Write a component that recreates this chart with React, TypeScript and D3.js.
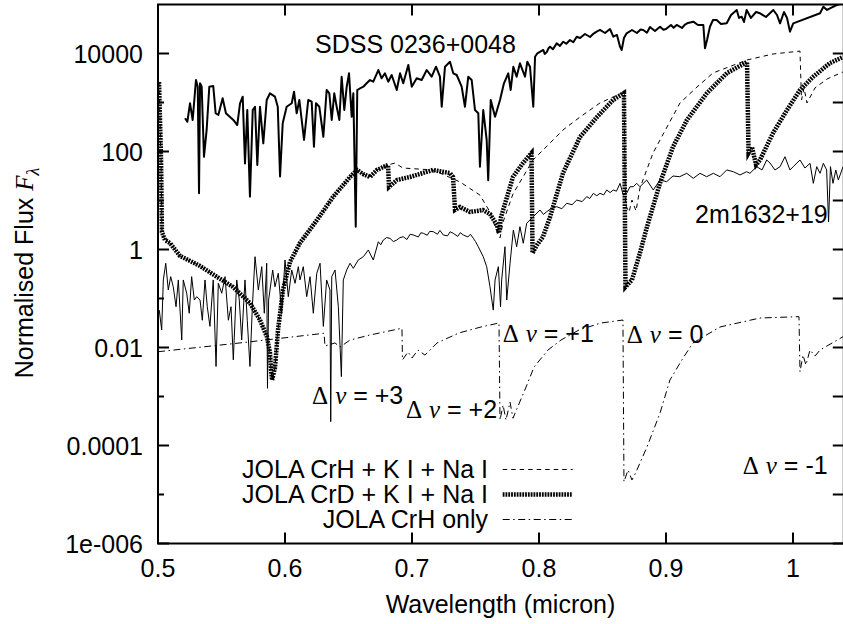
import React from 'react';
import * as d3 from 'd3';

const SANS = "'Liberation Sans', Arial, Helvetica, sans-serif";
const SERIF = "'Liberation Serif', 'Times New Roman', serif";

// Tick values and labels
const xTicks = [0.5, 0.6, 0.7, 0.8, 0.9, 1.0];
const xTickLabels = ['0.5', '0.6', '0.7', '0.8', '0.9', '1'];
const yMajor = [1e-6, 1e-4, 1e-2, 1, 100, 1e4];
const yMajorLabels = ['1e-006', '0.0001', '0.01', '1', '100', '10000'];
const yMinor = [1e-5, 1e-3, 0.1, 10, 1000];

// SDSS 0236+0048 observed spectrum [wavelength micron, flux]
const sdss: [number, number][] = [
  [0.5213,476],[0.5231,405],[0.5252,964],[0.5273,440],[0.5299,2875],[0.5313,2100],[0.5323,14],[0.5331,2466],[0.5344,2100],[0.5362,78],[0.5383,275],[0.5404,2100],[0.5435,2170],[0.5454,603],[0.5475,556],[0.5509,1220],[0.5535,603],[0.5593,440],[0.5624,347],[0.5646,964],[0.5667,1315],[0.5685,57],[0.5703,703],[0.5724,12],[0.5746,703],[0.5764,820],[0.5782,53],[0.5803,820],[0.5829,147],[0.5856,1125],[0.5882,1540],[0.5921,1315],[0.5943,820],[0.5961,31],[0.5982,377],[0.6013,820],[0.6053,964],[0.6071,1660],[0.6092,603],[0.6113,1125],[0.6150,172],[0.6183,1125],[0.6210,1038],[0.6228,125],[0.6244,964],[0.6270,820],[0.6302,200],[0.6328,1800],[0.6349,1540],[0.6368,440],[0.6388,1540],[0.6407,820],[0.6428,440],[0.6446,3365],[0.6467,703],[0.6486,2100],[0.6504,3945],[0.6525,513],[0.6538,1540],[0.6557,2.9],[0.6569,1800],[0.6591,1950],[0.6617,2100],[0.6643,2466],[0.6669,2875],[0.6695,2660],[0.6735,4600],[0.6761,3120],[0.6787,3945],[0.6813,2660],[0.6840,3640],[0.6880,1800],[0.6906,3945],[0.6931,2466],[0.6971,5820],[0.6998,2100],[0.7037,3120],[0.7076,2875],[0.7116,4600],[0.7155,3365],[0.7189,5380],[0.7220,3365],[0.7234,820],[0.7260,5380],[0.7299,6800],[0.7325,3945],[0.7352,3640],[0.7391,2100],[0.7417,820],[0.7443,3365],[0.7470,2875],[0.7496,703],[0.7522,603],[0.7535,49],[0.7561,703],[0.7588,172],[0.7600,26],[0.7620,1125],[0.7654,513],[0.7693,1125],[0.7724,2466],[0.7758,3945],[0.7777,1800],[0.7798,5380],[0.7824,3365],[0.7850,6300],[0.7890,3365],[0.7908,6800],[0.7929,5380],[0.7955,820],[0.7969,8600],[0.7987,10100],[0.8034,11800],[0.8045,9800],[0.8061,10700],[0.8075,12800],[0.8087,13800],[0.8110,12200],[0.8139,16100],[0.8165,14300],[0.8191,17400],[0.8215,15800],[0.8244,18900],[0.8270,17000],[0.8297,22000],[0.8323,20700],[0.8362,25000],[0.8402,21700],[0.8430,25500],[0.8454,27900],[0.8480,30200],[0.8520,26200],[0.8559,31600],[0.8585,22000],[0.8614,23900],[0.8638,13800],[0.8651,11800],[0.8669,20700],[0.8690,25800],[0.8732,30200],[0.8771,26200],[0.8800,31000],[0.8821,30200],[0.8850,26500],[0.8874,34800],[0.8913,28800],[0.8953,35200],[0.8980,30500],[0.9000,31600],[0.9039,38200],[0.9060,33500],[0.9084,38200],[0.9126,33200],[0.9150,39000],[0.9173,42000],[0.9215,44600],[0.9252,38200],[0.9294,38200],[0.9307,12800],[0.9323,18900],[0.9346,35200],[0.9370,48300],[0.9399,48300],[0.9433,40000],[0.9478,41300],[0.9512,61100],[0.9557,77300],[0.9575,53100],[0.9596,56400],[0.9614,44000],[0.9635,77300],[0.9669,53100],[0.9709,70300],[0.9740,66200],[0.9787,55600],[0.9845,77300],[0.9874,61100],[0.9898,41300],[0.9929,70300],[0.9953,53100],[0.9976,27900],[1.0002,41300],[1.0213,66200],[1.0239,90200],[1.0268,77300],[1.0291,83700],[1.0344,97700],[1.0394,106000],
];

// 2m1632+19 observed spectrum
const tm1632: [number, number][] = [
  [0.5010,0.058],[0.5029,0.0228],[0.5042,0.239],[0.5061,0.524],[0.5081,0.149],[0.5100,0.279],[0.5120,0.174],[0.5142,0.068],[0.5160,0.239],[0.5187,0.0142],[0.5199,0.239],[0.5226,0.128],[0.5246,0.050],[0.5265,0.279],[0.5286,0.093],[0.5305,0.109],[0.5331,0.093],[0.5349,0.036],[0.5370,0.239],[0.5388,0.068],[0.5409,0.027],[0.5435,0.239],[0.5457,0.0041],[0.5475,0.204],[0.5502,0.128],[0.5528,0.279],[0.5554,0.036],[0.5575,0.068],[0.5593,0.0056],[0.5620,0.239],[0.5640,0.093],[0.5659,0.0142],[0.5685,0.239],[0.5703,0.036],[0.5724,0.0041],[0.5743,0.068],[0.5764,0.713],[0.5790,0.149],[0.5817,0.446],[0.5837,0.050],[0.5856,0.524],[0.5862,0.00147],[0.5871,0.093],[0.5882,0.149],[0.5903,0.382],[0.5921,0.174],[0.5947,0.327],[0.5974,0.050],[0.6000,0.611],[0.6026,0.109],[0.6053,0.382],[0.6079,0.204],[0.6105,0.446],[0.6118,0.239],[0.6144,0.446],[0.6171,0.109],[0.6197,0.279],[0.6223,0.050],[0.6250,0.327],[0.6276,0.524],[0.6302,0.027],[0.6328,0.239],[0.6354,0.149],[0.6360,0.000306],[0.6368,0.279],[0.6394,0.382],[0.6420,0.068],[0.6444,0.00254],[0.6459,0.239],[0.6486,0.382],[0.6512,0.524],[0.6538,0.413],[0.6577,0.611],[0.6617,0.713],[0.6656,0.977],[0.6695,0.611],[0.6735,1.44],[0.6754,1.25],[0.6774,1.56],[0.6800,1.75],[0.6827,1.69],[0.6853,1.45],[0.6880,1.56],[0.6905,1.75],[0.6931,1.82],[0.6960,1.60],[0.6985,2.05],[0.7010,1.98],[0.7050,1.80],[0.7070,2.20],[0.7089,2.14],[0.7120,1.95],[0.7140,2.35],[0.7168,2.31],[0.7200,2.05],[0.7220,2.45],[0.7246,1.98],[0.7280,1.90],[0.7300,2.30],[0.7325,2.14],[0.7360,1.85],[0.7380,2.20],[0.7404,1.98],[0.7440,1.80],[0.7460,2.05],[0.7483,1.69],[0.7500,1.45],[0.7522,1.14],[0.7561,0.713],[0.7588,0.446],[0.7614,0.174],[0.7640,0.058],[0.7654,0.239],[0.7680,0.446],[0.7697,0.068],[0.7706,0.239],[0.7732,1.14],[0.7746,0.093],[0.7772,0.524],[0.7798,2.50],[0.7824,1.14],[0.7850,2.92],[0.7876,1.34],[0.7903,3.43],[0.7955,4.68],[0.8008,6.40],[0.8035,5.2],[0.8061,5.91],[0.8100,7.0],[0.8139,7.48],[0.8180,6.8],[0.8218,8.77],[0.8260,8.2],[0.8297,10.2],[0.8340,9.5],[0.8376,12.0],[0.8400,11.0],[0.8428,14.0],[0.8455,12.5],[0.8480,14.0],[0.8510,13.0],[0.8533,16.4],[0.8560,14.5],[0.8585,16.4],[0.8610,15.5],[0.8638,22.4],[0.8664,12.9],[0.8690,14.0],[0.8717,19.1],[0.8743,19.1],[0.8769,22.4],[0.8795,19.1],[0.8848,26.2],[0.8900,16.4],[0.8953,26.2],[0.9005,24.2],[0.9055,31.6],[0.9108,30.6],[0.9163,35.9],[0.9215,28.4],[0.9268,35.9],[0.9320,30.6],[0.9373,35.9],[0.9425,30.6],[0.9478,42.0],[0.9530,38.7],[0.9583,33.2],[0.9635,38.7],[0.9661,35.9],[0.9714,49.0],[0.9756,42.0],[0.9793,67.1],[0.9819,58.2],[0.9858,42.0],[0.9898,49.0],[0.9937,78.3],[0.9976,42.0],[1.0002,49.0],[1.0055,67.1],[1.0094,46.0],[1.0134,57.4],[1.0160,22.4],[1.0187,49.0],[1.0213,35.9],[1.0239,57.4],[1.0265,42.0],[1.0280,3.64],[1.0295,49.0],[1.0315,22.4],[1.0337,42.0],[1.0357,26.2],[1.0394,49.0],
];

// JOLA CrH + K I + Na I model
const crhKNa: [number, number][] = [
  [0.5008,2620],[0.5024,67.1],[0.5031,2.28],[0.5055,1.56],[0.5094,1.36],[0.5173,0.738],[0.5331,0.460],[0.5465,0.275],[0.5591,0.172],[0.5724,0.0809],[0.5803,0.0364],[0.5858,0.0164],[0.5882,0.00773],[0.5890,0.00348],[0.5898,0.00217],[0.5921,0.00382],[0.5945,0.0228],[0.5984,0.149],[0.6039,0.556],[0.6118,1.36],[0.6252,4.00],[0.6378,11.8],[0.6512,30.2],[0.6567,42.0],[0.6614,34.8],[0.6669,30.2],[0.6724,42.0],[0.6811,53.1],[0.6866,58.2],[0.6929,46.0],[0.7165,42.0],[0.7378,23.9],[0.7535,12.9],[0.7614,5.82],[0.7669,2.28],[0.7693,1.72],[0.7717,3.64],[0.7795,13.6],[0.7953,67.1],[0.8189,275],[0.8323,506],[0.8480,977],[0.8583,1294],[0.8669,1637],[0.8681,8.09],[0.8709,5.82],[0.8732,10.2],[0.8764,6.11],[0.8795,18.0],[0.8898,93.3],[0.9008,316],[0.9110,977],[0.9244,2070],[0.9370,4000],[0.9638,7380],[0.9843,9770],[1.0055,11200],[1.0067,1125],[1.0087,1980],[1.0110,977],[1.0173,1980],[1.0268,3020],[1.0394,4200],
];

// JOLA CrD + K I + Na I model
const crdKNa: [number, number][] = [
  [0.5008,2620],[0.5024,67.1],[0.5031,2.28],[0.5055,1.56],[0.5094,1.36],[0.5173,0.738],[0.5331,0.460],[0.5465,0.275],[0.5591,0.172],[0.5724,0.0809],[0.5803,0.0364],[0.5858,0.0164],[0.5882,0.00773],[0.5890,0.00348],[0.5898,0.00217],[0.5921,0.00382],[0.5945,0.0228],[0.5984,0.149],[0.6039,0.556],[0.6118,1.36],[0.6252,4.00],[0.6378,11.8],[0.6512,30.2],[0.6567,42.0],[0.6614,34.8],[0.6669,30.2],[0.6724,42.0],[0.6811,53.1],[0.6819,18.9],[0.6882,26.2],[0.6984,30.2],[0.7165,42.0],[0.7299,36.4],[0.7323,30.2],[0.7339,6.40],[0.7378,7.38],[0.7457,5.82],[0.7559,6.40],[0.7614,5.31],[0.7669,3.16],[0.7685,2.17],[0.7701,4.60],[0.7795,30.2],[0.7874,58.2],[0.7941,93.3],[0.7949,0.849],[0.7984,1.24],[0.8031,1.80],[0.8087,4.60],[0.8189,36.4],[0.8323,198],[0.8457,506],[0.8583,1125],[0.8669,1563],[0.8681,0.172],[0.8732,0.239],[0.8795,0.849],[0.8850,2.88],[0.8953,22.7],[0.9055,124],[0.9165,440],[0.9323,1563],[0.9480,4000],[0.9638,6710],[0.9650,93.3],[0.9677,124],[0.9709,53.1],[0.9740,67.1],[0.9843,239],[0.9953,703],[1.0055,1800],[1.0157,3320],[1.0291,6400],[1.0394,8490],
];

// JOLA CrH only model
const crhOnly: [number, number][] = [
  [0.5000,8.2e-3],[0.5646,1.24e-2],[0.6307,1.95e-2],[0.6315,1.07e-2],[0.6394,1.24e-2],[0.6433,1.02e-2],[0.6512,1.42e-2],[0.6669,1.8e-2],[0.6921,2.47e-2],[0.6925,5.6e-3],[0.6969,8.1e-3],[0.7000,6.1e-3],[0.7047,8.9e-3],[0.7102,7.0e-3],[0.7197,1.24e-2],[0.7370,1.98e-2],[0.7543,2.62e-2],[0.7685,3.16e-2],[0.7693,3.3e-4],[0.7717,6.7e-4],[0.7740,3.3e-4],[0.7772,7.7e-4],[0.7795,3.6e-4],[0.7898,1.56e-3],[0.7961,4.0e-3],[0.8071,8.9e-3],[0.8173,1.42e-2],[0.8315,2.28e-2],[0.8488,3.16e-2],[0.8661,3.64e-2],[0.8669,1.82e-5],[0.8701,3.16e-5],[0.8732,1.98e-5],[0.8764,2.88e-5],[0.8850,9.3e-5],[0.8953,4.6e-4],[0.9031,2.17e-3],[0.9134,6.1e-3],[0.9213,1.24e-2],[0.9425,2.62e-2],[0.9740,4.0e-2],[1.0047,4.26e-2],[1.0055,3.2e-3],[1.0079,7.0e-3],[1.0102,4.4e-3],[1.0134,8.9e-3],[1.0173,6.7e-3],[1.0213,8.9e-3],[1.0394,1.66e-2],
];

const legendLabels = ['JOLA CrH + K I + Na I', 'JOLA CrD + K I + Na I', 'JOLA CrH only'];

const deltaLabels: { w: number; f: number; tail: string }[] = [
  { w: 0.6213, f: 7.0e-4, tail: '+3' },
  { w: 0.6952, f: 3.6e-4, tail: '+2' },
  { w: 0.7714, f: 0.0132, tail: '+1' },
  { w: 0.8691, f: 0.0122, tail: '0' },
  { w: 0.9604, f: 2.6e-5, tail: '-1' },
];

export default function App() {
  const x = d3.scaleLinear().domain([0.5, 1.04]).range([158, 843.8]);
  const y = d3.scaleLog().domain([1e-6, 1e5]).range([543.5, 4.5]);
  const line = d3
    .line<[number, number]>()
    .x((d) => x(d[0]))
    .y((d) => y(d[1]));

  const x0 = x(0.5), x1 = x(1.04);
  const yTop = y(1e5), yBot = y(1e-6);

  const styles = [
    { strokeWidth: 1, dash: '4.5,4' },
    { strokeWidth: 4.5, dash: '1.8,1' },
    { strokeWidth: 1, dash: '7,3.5,1.5,3.5' },
  ];

  return (
    <svg
      width={843}
      height={624}
      style={{ position: 'absolute', left: 0, top: 0, background: '#fff' }}
      fontFamily={SANS}
    >
      <defs>
        <clipPath id="plotclip">
          <rect x={x0} y={yTop} width={x1 - x0} height={yBot - yTop} />
        </clipPath>
      </defs>
      <rect x={0} y={0} width={843} height={624} fill="#fff" />

      <g clipPath="url(#plotclip)" fill="none">
        <path d={line(crhOnly) || ''} stroke="#000" strokeWidth={styles[2].strokeWidth} strokeDasharray={styles[2].dash} />
        <path d={line(tm1632) || ''} stroke="#000" strokeWidth={1} />
        <path d={line(crhKNa) || ''} stroke="#000" strokeWidth={styles[0].strokeWidth} strokeDasharray={styles[0].dash} />
        <path d={line(crdKNa) || ''} stroke="#000" strokeWidth={styles[1].strokeWidth} strokeDasharray={styles[1].dash} />
        <path d={line(sdss) || ''} stroke="#000" strokeWidth={2} strokeLinejoin="round" />
      </g>

      {/* frame */}
      <path
        d={`M${x1},${yTop}H${x0}V${yBot}H${x1}V${yTop}`}
        fill="none"
        stroke="#000"
        strokeWidth={2}
      />

      {/* x ticks */}
      {xTicks.map((t, i) => (
        <g key={'xt' + i}>
          <line x1={x(t)} x2={x(t)} y1={yBot} y2={yBot - 11} stroke="#000" strokeWidth={2} />
          <line x1={x(t)} x2={x(t)} y1={yTop} y2={yTop + 11} stroke="#000" strokeWidth={2} />
          <text x={x(t)} y={577} textAnchor="middle" fontSize={25}>
            {xTickLabels[i]}
          </text>
        </g>
      ))}

      {/* y ticks */}
      {yMajor.map((t, i) => (
        <g key={'ym' + i}>
          <line x1={x0} x2={x0 + 11} y1={y(t)} y2={y(t)} stroke="#000" strokeWidth={2} />
          <line x1={x1} x2={x1 - 11} y1={y(t)} y2={y(t)} stroke="#000" strokeWidth={2} />
          <text x={143} y={y(t) + 9} textAnchor="end" fontSize={25}>
            {yMajorLabels[i]}
          </text>
        </g>
      ))}
      {yMinor.map((t, i) => (
        <g key={'yn' + i}>
          <line x1={x0} x2={x0 + 6} y1={y(t)} y2={y(t)} stroke="#000" strokeWidth={2} />
          <line x1={x1} x2={x1 - 11} y1={y(t)} y2={y(t)} stroke="#000" strokeWidth={2} />
        </g>
      ))}

      {/* axis titles */}
      <text x={500.5} y={613} textAnchor="middle" fontSize={25}>
        Wavelength (micron)
      </text>
      <text transform="translate(33,273) rotate(-90)" textAnchor="middle" fontSize={25}>
        Normalised Flux{' '}
        <tspan fontFamily={SERIF} fontStyle="italic">F</tspan>
        <tspan fontFamily={SERIF} fontStyle="italic" fontSize={18} dy={6}>λ</tspan>
      </text>

      {/* object labels */}
      <text x={315} y={53} fontSize={25}>SDSS 0236+0048</text>
      <text x={695} y={223} fontSize={25}>2m1632+19</text>

      {deltaLabels.map((d, i) => (
        <text key={'dl' + i} x={x(d.w)} y={y(d.f)} fontSize={25}>
          <tspan fontFamily={SERIF}>Δ</tspan>
          <tspan fontFamily={SERIF} fontStyle="italic" dx={7}>ν</tspan>
          <tspan>{' = ' + d.tail}</tspan>
        </text>
      ))}

      {/* legend */}
      {legendLabels.map((lab, i) => (
        <g key={'lg' + i}>
          <text x={488} y={478.3 + i * 25} textAnchor="end" fontSize={25}>
            {lab}
          </text>
          <line
            x1={502.7}
            x2={572.7}
            y1={469.5 + i * 25}
            y2={469.5 + i * 25}
            stroke="#000"
            strokeWidth={styles[i].strokeWidth}
            strokeDasharray={styles[i].dash}
          />
        </g>
      ))}
    </svg>
  );
}
